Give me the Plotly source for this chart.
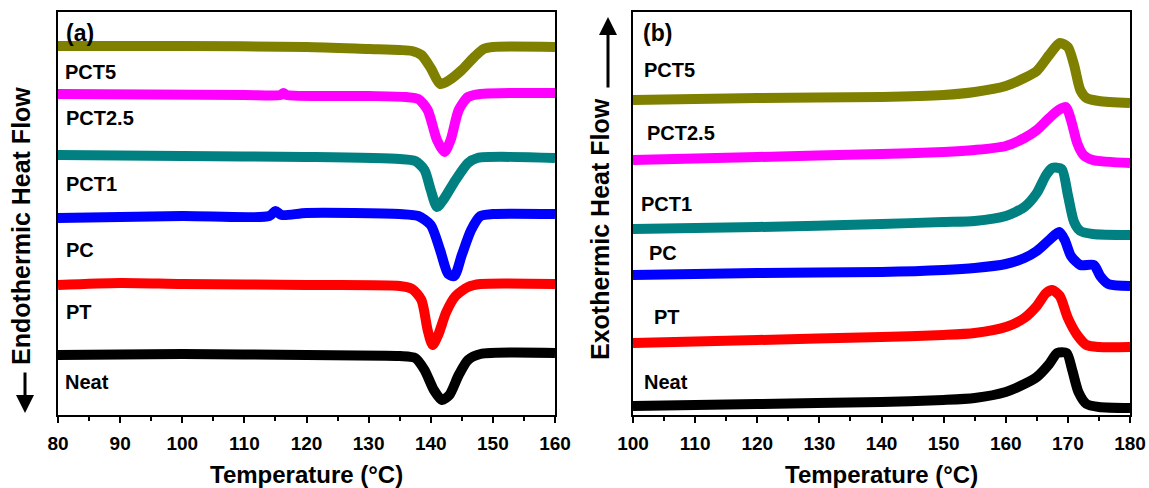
import plotly.graph_objects as go

# ---------------- data (heat flow in arbitrary units, curves vertically offset) ----------------
# Panel (a): heating (endothermic, melting)
a_names = ["PCT5", "PCT2.5", "PCT1", "PC", "PT", "Neat"]
a_colors = ["#808000", "#FF00FF", "#008080", "#0000FF", "#FF0000", "#000000"]

a_pct5_T = [80, 100, 120, 130, 135, 137, 138.5, 140, 141.5, 143, 145, 147, 148.5, 150, 160]
a_pct5_H = [36.9, 36.9, 36.8, 36.6, 36.5, 36.4, 36.0, 34.7, 33.1, 33.5, 34.5, 35.8, 36.6, 36.8, 36.8]

a_pct25_T = [80, 110, 115.8, 116.3, 116.8, 130, 136, 138, 139.5, 141, 142.2, 143.2, 144.5, 146, 148, 160]
a_pct25_H = [32.1, 32.0, 32.0, 32.2, 32.0, 31.9, 31.8, 31.6, 30.5, 27.5, 26.3, 27.5, 30.5, 31.8, 32.1, 32.2]

a_pct1_T = [80, 100, 120, 135, 137.5, 139, 140, 141, 142, 144, 146, 147.5, 160]
a_pct1_H = [26.0, 25.9, 25.8, 25.6, 25.4, 24.5, 22.5, 20.8, 21.5, 23.5, 25.2, 25.7, 25.7]

a_pc_T = [80, 100, 114, 115, 116, 120, 135, 138, 140, 141.5, 142.8, 143.8, 145, 146.5, 148, 150, 160]
a_pc_H = [19.7, 19.9, 19.9, 20.4, 20.0, 20.2, 20.1, 19.9, 19.0, 16.5, 14.1, 13.9, 16.0, 18.5, 19.9, 20.1, 20.1]

a_pt_T = [80, 90, 100, 120, 135, 137, 138.5, 139.5, 140.3, 141.2, 142.5, 144, 146, 148, 160]
a_pt_H = [13.0, 13.2, 13.1, 13.0, 12.9, 12.6, 11.5, 8.5, 7.0, 8.0, 10.3, 11.9, 12.8, 13.1, 13.1]

a_neat_T = [80, 100, 120, 135, 137.5, 139, 140.5, 141.8, 143, 144.5, 146, 148, 160]
a_neat_H = [6.0, 6.1, 6.0, 5.9, 5.7, 4.5, 2.5, 1.5, 2.0, 4.0, 5.5, 6.1, 6.2]

# Panel (b): cooling (exothermic, crystallization)
b_pct5_T = [100, 120, 140, 150, 155, 160, 163, 165, 167, 168.7, 170, 171, 172, 173, 175, 180]
b_pct5_H = [31.5, 31.7, 31.8, 32.0, 32.3, 32.9, 33.7, 34.4, 36.0, 37.2, 36.8, 35.0, 32.5, 31.7, 31.4, 31.2]

b_pct25_T = [100, 120, 140, 150, 155, 160, 163, 165, 167, 168.5, 169.7, 170.5, 171.5, 172.5, 174, 180]
b_pct25_H = [25.5, 25.8, 26.1, 26.3, 26.5, 26.9, 27.7, 28.5, 29.7, 30.5, 30.8, 29.5, 27.2, 26.0, 25.5, 25.2]

b_pct1_T = [100, 120, 140, 150, 155, 160, 163, 165, 166.5, 167.5, 169, 170, 171, 172, 174, 180]
b_pct1_H = [18.6, 18.8, 19.1, 19.3, 19.4, 19.9, 20.8, 22.2, 24.0, 24.7, 24.6, 22.0, 19.3, 18.4, 18.1, 18.0]

b_pc_T = [100, 120, 140, 150, 155, 160, 163, 165, 167, 168.6, 169.5, 170.5, 172, 174.2, 175.2, 176.5, 180]
b_pc_H = [14.0, 14.2, 14.3, 14.5, 14.7, 15.1, 15.7, 16.4, 17.5, 18.3, 17.5, 15.9, 15.0, 15.0, 13.9, 13.1, 12.9]

b_pt_T = [100, 120, 140, 150, 155, 160, 163, 165, 166.5, 167.5, 168.7, 170, 171.5, 173, 175, 180]
b_pt_H = [7.2, 7.5, 7.8, 8.0, 8.2, 8.8, 9.7, 10.9, 12.2, 12.5, 11.9, 9.7, 8.0, 7.0, 6.8, 6.8]

b_neat_T = [100, 120, 140, 150, 155, 160, 163, 165, 167, 168.3, 169.8, 170.7, 171.7, 173, 175, 180]
b_neat_H = [0.9, 1.1, 1.3, 1.5, 1.7, 2.3, 3.1, 3.8, 5.1, 6.2, 6.2, 4.5, 2.3, 1.1, 0.8, 0.7]

a_x_ticks = [80, 90, 100, 110, 120, 130, 140, 150, 160]
b_x_ticks = [100, 110, 120, 130, 140, 150, 160, 170, 180]

# ---------------- figure ----------------
W, H = 1149, 488
FONT = "Liberation Sans, Arial, sans-serif"


def px(x):
    return x / W


def py(y):
    return 1 - y / H


fig = go.Figure()

a_series = [(a_pct5_T, a_pct5_H), (a_pct25_T, a_pct25_H), (a_pct1_T, a_pct1_H),
            (a_pc_T, a_pc_H), (a_pt_T, a_pt_H), (a_neat_T, a_neat_H)]
b_series = [(b_pct5_T, b_pct5_H), (b_pct25_T, b_pct25_H), (b_pct1_T, b_pct1_H),
            (b_pc_T, b_pc_H), (b_pt_T, b_pt_H), (b_neat_T, b_neat_H)]

for (T, Hf), name, col in zip(a_series, a_names, a_colors):
    fig.add_trace(go.Scatter(x=T, y=Hf, mode="lines", name=name, xaxis="x", yaxis="y",
                             line=dict(color=col, width=10, shape="spline", smoothing=0.7),
                             showlegend=False))
for (T, Hf), name, col in zip(b_series, a_names, a_colors):
    fig.add_trace(go.Scatter(x=T, y=Hf, mode="lines", name=name, xaxis="x2", yaxis="y2",
                             line=dict(color=col, width=10, shape="spline", smoothing=0.7),
                             showlegend=False))

xcommon = dict(showline=True, linecolor="black", linewidth=2, mirror=True, automargin=False,
               ticks="outside", ticklen=6, tickwidth=2, tickcolor="black",
               minor=dict(dtick=5, ticks="outside", ticklen=4, tickwidth=2, tickcolor="black"),
               showgrid=False, zeroline=False, ticklabelstandoff=4,
               tickfont=dict(family=FONT, size=19, color="black"))
ycommon = dict(showline=True, linecolor="black", linewidth=2, mirror=True, automargin=False,
               ticks="", showticklabels=False, showgrid=False, zeroline=False,
               range=[0, 40.3], domain=[py(415), py(12)])

fig.update_layout(
    width=W, height=H, margin=dict(l=0, r=0, t=0, b=0, autoexpand=False),
    paper_bgcolor="white", plot_bgcolor="white",
    xaxis=dict(domain=[px(58), px(555)], range=[80, 160], tickvals=a_x_ticks,
               ticktext=["<b>%d</b>" % v for v in a_x_ticks], anchor="y", **xcommon),
    yaxis=dict(anchor="x", **ycommon),
    xaxis2=dict(domain=[px(633), px(1130)], range=[100, 180], tickvals=b_x_ticks,
                ticktext=["<b>%d</b>" % v for v in b_x_ticks], anchor="y2", **xcommon),
    yaxis2=dict(anchor="x2", **ycommon),
)

anns = []


def label(x, y, text, size=20):
    anns.append(dict(x=px(x), y=py(y), xref="paper", yref="paper", text="<b>%s</b>" % text,
                     showarrow=False, xanchor="left", yanchor="middle",
                     font=dict(family=FONT, size=size, color="black")))


for name, yy, xx in zip(a_names, [72, 118, 184, 250, 312, 382], [63, 64, 64, 64, 64, 63]):
    label(xx, yy, name)
for name, yy, xx in zip(a_names, [70, 133, 204, 253, 317, 382], [642, 645, 639, 647, 652, 642]):
    label(xx, yy, name)
label(64, 33, "(a)", 23)
label(641, 33, "(b)", 23)

# axis titles
for xc in [(58 + 555) / 2, (633 + 1130) / 2]:
    anns.append(dict(x=px(xc), y=py(474), xref="paper", yref="paper", text="<b>Temperature (°C)</b>",
                     showarrow=False, xanchor="center", yanchor="middle",
                     font=dict(family=FONT, size=24, color="black")))
anns.append(dict(x=px(21), y=py(226), xref="paper", yref="paper", text="<b>Endothermic Heat Flow</b>",
                 showarrow=False, textangle=-90, xanchor="center", yanchor="middle",
                 font=dict(family=FONT, size=25, color="black")))
anns.append(dict(x=px(600), y=py(229), xref="paper", yref="paper", text="<b>Exothermic Heat Flow</b>",
                 showarrow=False, textangle=-90, xanchor="center", yanchor="middle",
                 font=dict(family=FONT, size=25, color="black")))
# arrows
anns.append(dict(x=px(25), y=py(413), xref="paper", yref="paper", ax=0, ay=-42, text="",
                 showarrow=True, arrowhead=2, arrowsize=1.2, arrowwidth=3, arrowcolor="black"))
anns.append(dict(x=px(608), y=py(17), xref="paper", yref="paper", ax=0, ay=72, text="",
                 showarrow=True, arrowhead=2, arrowsize=1.2, arrowwidth=3, arrowcolor="black"))

fig.update_layout(annotations=anns)
fig.write_html("out.html")
